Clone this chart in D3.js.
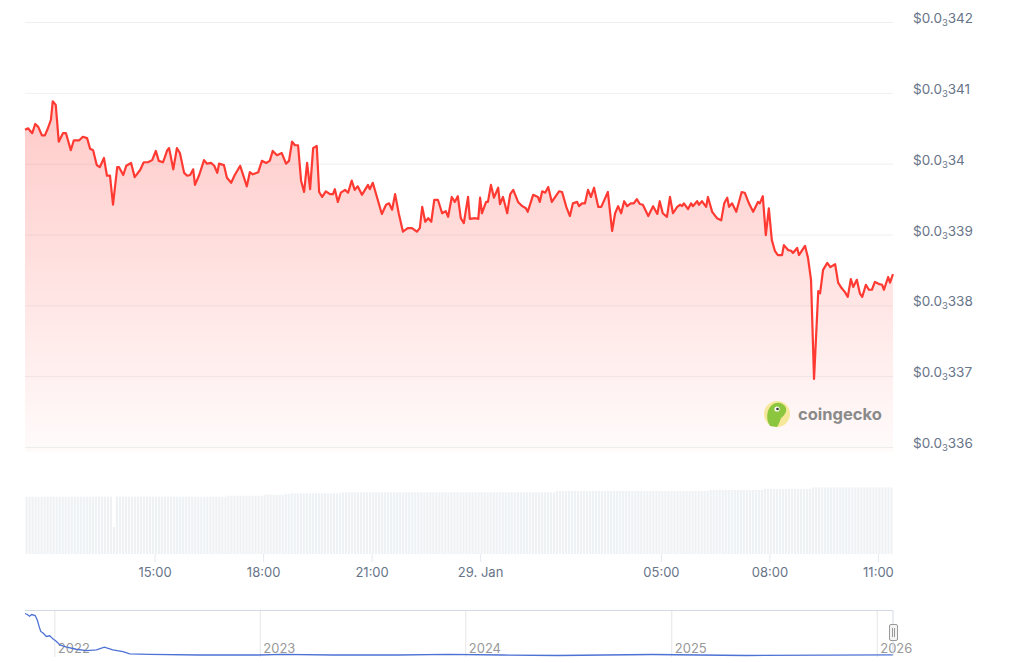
<!DOCTYPE html>
<html>
<head>
<meta charset="utf-8">
<script src="https://cdn.jsdelivr.net/npm/d3@7"></script>
<style>
  html, body { margin: 0; padding: 0; background: #fff; }
  svg { display: block; font-family: Inter, "Noto Sans", sans-serif; }
</style>
</head>
<body>
<svg id="chart"></svg>
<script>
// minutes after 28 Jan 2026 11:25
const minutes = [0,5,12,17,22,28,33,38,43,46,51,56,63,68,76,81,90,96,103,108,113,119,124,131,136,141,146,153,156,163,168,176,182,191,197,204,211,217,222,229,236,239,246,252,257,264,269,274,279,282,289,297,302,309,314,319,322,330,335,342,348,357,
  368,373,378,387,393,400,406,411,418,426,433,438,443,448,453,458,463,468,473,478,484,488,493,499,506,511,514,519,524,531,536,542,547,552,559,569,572,577,592,599,604,609,614,620,627,635,642,650,655,659,664,669,674,679,685,692,698,702,708,713,
  718,723,728,735,738,747,752,755,758,765,768,773,778,785,788,793,800,805,810,818,825,831,834,843,851,854,858,863,868,874,886,891,898,904,909,916,919,924,929,934,939,944,951,956,967,974,979,984,989,994,999,1005,1010,1015,1020,1025,1034,1042,1049,1053,1058,1065,1070,1075,1082,
  1087,1090,1093,1100,1105,1108,1115,1118,1123,1130,1133,1140,1148,1155,1160,1165,1168,1173,1180,1189,1194,1201,1208,1216,1219,1224,1229,1234,1239,1244,1249,1256,1259,1266,1271,1274,1281,1284,1294,1299,1304,1309,1316,1319,1324,1331,1336,1344,1349,1355,1360,1365,1370,1374,1380,1385,1389,1395,1400,1405,1410,1417,1422,1425,1432,1435,1440];

// price in millionths of a dollar (340.48 -> $0.00034048)
const prices = [340.48,340.50,340.43,340.56,340.52,340.40,340.40,340.50,340.62,340.88,340.83,340.31,340.43,340.43,340.19,340.33,340.33,340.38,340.36,340.21,340.19,339.98,339.95,340.08,339.83,339.83,339.42,339.95,339.95,339.84,339.97,340.01,339.81,339.91,340.02,340.02,340.05,340.18,340.04,340.02,340.19,340.22,339.92,340.22,340.15,339.87,339.83,339.84,339.92,339.70,339.84,340.05,340.00,340.01,339.97,339.87,340.00,339.98,339.80,339.73,339.84,339.97,
  339.68,339.88,339.85,339.88,340.04,340.01,340.04,340.18,340.12,340.15,340.00,340.04,340.31,340.26,340.26,339.76,339.60,340.01,339.64,340.22,340.25,339.60,339.53,339.61,339.57,339.57,339.64,339.46,339.59,339.63,339.59,339.76,339.63,339.68,339.56,339.70,339.64,339.73,339.29,339.42,339.44,339.35,339.57,339.30,339.04,339.09,339.09,339.04,339.09,339.39,339.18,339.23,339.18,339.49,339.49,339.30,339.33,339.25,339.53,339.46,
  339.54,339.23,339.16,339.53,339.22,339.23,339.22,339.52,339.30,339.46,339.46,339.70,339.52,339.66,339.43,339.53,339.30,339.57,339.63,339.46,339.40,339.37,339.32,339.56,339.53,339.46,339.61,339.59,339.67,339.46,339.61,339.60,339.39,339.26,339.44,339.46,339.40,339.44,339.44,339.63,339.53,339.66,339.39,339.39,339.60,339.05,339.30,339.40,339.30,339.47,339.40,339.44,339.44,339.50,339.43,339.42,339.26,339.40,339.29,339.47,339.30,339.25,339.53,339.30,339.39,
  339.42,339.40,339.44,339.36,339.44,339.40,339.47,339.42,339.47,339.39,339.53,339.32,339.23,339.20,339.44,339.52,339.39,339.44,339.32,339.60,339.59,339.44,339.32,339.46,339.44,339.54,338.99,339.37,338.92,338.77,338.71,338.71,338.85,338.78,338.77,338.74,338.81,338.71,338.84,338.67,338.36,336.96,338.20,338.17,338.50,338.60,338.54,338.58,338.32,338.24,338.19,338.12,338.37,338.26,338.36,338.17,338.12,338.29,338.22,338.22,338.33,338.30,338.29,338.22,338.40,338.32,338.44];

// volume bars, 5 minutes each: [number of bars, volume (relative units)]
const volumeRuns = [[29, 573], [1, 270], [37, 573], [12, 583], [7, 593], [2, 600], [17, 607], [71, 617], [51, 630], [18, 640], [16, 650], [27, 667]];

const yTicks = [336, 337, 338, 339, 340, 341, 342];
const xTickTimes = ["2026-01-28T15:00", "2026-01-28T18:00", "2026-01-28T21:00", "2026-01-29T00:00", "2026-01-29T05:00", "2026-01-29T08:00", "2026-01-29T11:00"];

// navigator: full history
const navDates = ["2021-11-09","2021-11-13","2021-11-17","2021-11-21","2021-11-27","2021-12-01","2021-12-04","2021-12-07","2021-12-11","2021-12-17","2021-12-23","2021-12-29","2022-01-04","2022-01-10","2022-01-22","2022-02-08","2022-02-26","2022-03-16","2022-03-30","2022-04-14","2022-05-02","2022-05-14","2022-06-18","2022-09-14","2022-12-30","2023-02-08","2023-05-08","2023-09-03","2023-12-01","2024-03-05","2024-06-12","2024-11-27","2025-05-14","2026-01-29"];
const navPrices = [1387,1361,1318,1361,1336,1215,1060,932,891,803,821,736,675,590,531,479,443,461,531,461,418,359,351,333,333,351,333,333,351,333,320,346,320,338];
const navYears = ["2022", "2023", "2024", "2025", "2026"];

const width = 1024;
const height = 663;
const left = 25, right = 893;
const textColor = "#677489";

const svg = d3.select("#chart")
  .attr("width", width)
  .attr("height", height);

const start = new Date(2026, 0, 28, 11, 25);
const end = new Date(2026, 0, 29, 11, 25);

const x = d3.scaleTime().domain([start, end]).range([left, right]);
const y = d3.scaleLinear().domain([336, 342]).range([447, 22]);
const paneBottom = y(336) + 5;

const points = minutes.map((m, i) => ({ t: new Date(+start + m * 60000), v: prices[i] }));

// grid
svg.append("g")
  .attr("transform", `translate(${left},0)`)
  .call(d3.axisRight(y).tickValues(yTicks).tickSize(right - left).tickFormat(""))
  .call(g => g.select(".domain").remove())
  .selectAll("line")
  .attr("stroke", "#edf0f3");

// y labels like $0.0₃342
const yLabels = svg.append("g")
  .selectAll("text")
  .data(yTicks)
  .enter()
  .append("text")
  .attr("x", 913)
  .attr("y", d => y(d) + 1)
  .attr("fill", textColor)
  .style("font-size", "13.5px");
yLabels.append("tspan").text("$0.0");
yLabels.append("tspan").attr("dy", 3).style("font-size", "9.5px").text("3");
yLabels.append("tspan").attr("dy", -3).text(d => String(d).replace(/0+$/, ""));

// area + line
const defs = svg.append("defs");
const grad = defs.append("linearGradient")
  .attr("id", "priceFill")
  .attr("x1", 0).attr("y1", 0).attr("x2", 0).attr("y2", 1);
grad.append("stop").attr("offset", "0%").attr("stop-color", "#ff3a33").attr("stop-opacity", 0.27);
grad.append("stop").attr("offset", "100%").attr("stop-color", "#ff3a33").attr("stop-opacity", 0.02);

svg.append("path")
  .datum(points)
  .attr("fill", "url(#priceFill)")
  .attr("d", d3.area().x(d => x(d.t)).y0(paneBottom).y1(d => y(d.v)));

svg.append("path")
  .datum(points)
  .attr("fill", "none")
  .attr("stroke", "#ff3a33")
  .attr("stroke-width", 2.2)
  .attr("stroke-linejoin", "round")
  .attr("d", d3.line().x(d => x(d.t)).y(d => y(d.v)));

// watermark
const wm = svg.append("g");
wm.append("circle").attr("cx", 777).attr("cy", 414).attr("r", 13).attr("fill", "#f6e89a");
wm.append("path")
  .attr("d", "M770,426 C766,420 766,410 772,405 C777,401 784,403 786,408 C787,412 784,416 781,418 C780,421 779,424 777,427 Z")
  .attr("fill", "#8cc63f");
wm.append("circle").attr("cx", 777).attr("cy", 409).attr("r", 2.6).attr("fill", "#fff");
wm.append("circle").attr("cx", 777.5).attr("cy", 409).attr("r", 1.3).attr("fill", "#333");
wm.append("text")
  .attr("x", 798)
  .attr("y", 420)
  .attr("fill", "#8a8a8a")
  .style("font-size", "16.5px")
  .style("font-weight", "700")
  .text("coingecko");

// volume
const volume = [];
volumeRuns.forEach(([n, v]) => { for (let k = 0; k < n; k++) volume.push(v); });
const step = 5 * 60000;
const yV = d3.scaleLinear().domain([0, 700]).range([554, 484]);

svg.append("g")
  .selectAll("rect")
  .data(volume)
  .enter()
  .append("rect")
  .attr("x", (d, i) => x(new Date(+start + i * step)) + 0.4)
  .attr("width", (d, i) => x(new Date(+start + (i + 1) * step)) - x(new Date(+start + i * step)) - 0.8)
  .attr("y", d => yV(d))
  .attr("height", d => yV(0) - yV(d))
  .attr("fill", "#eff2f5");

// x axis
const fmtDay = d3.timeFormat("%-d. %b");
const fmtHour = d3.timeFormat("%H:%M");
svg.append("g")
  .attr("transform", "translate(0,554)")
  .call(d3.axisBottom(x)
    .tickValues(xTickTimes.map(d => new Date(d)))
    .tickSize(8)
    .tickFormat(d => d.getHours() === 0 ? fmtDay(d) : fmtHour(d)))
  .call(g => g.select(".domain").remove())
  .call(g => g.selectAll("line").attr("stroke", "#e6e9ee"))
  .call(g => g.selectAll("text")
    .attr("y", 14)
    .attr("fill", textColor)
    .style("font-size", "13px")
    .style("font-family", "Inter, 'Noto Sans', sans-serif"));

// navigator
const xN = d3.scaleTime()
  .domain([new Date(navDates[0]), new Date(navDates[navDates.length - 1])])
  .range([left, right]);
const yN = d3.scaleLinear().domain(d3.extent(navPrices)).range([655.5, 613.5]);

const navYearG = svg.append("g")
  .selectAll("g")
  .data(navYears)
  .enter()
  .append("g")
  .attr("transform", d => `translate(${xN(new Date(+d, 0, 1))},0)`);
navYearG.append("line")
  .attr("y1", 610).attr("y2", 657)
  .attr("stroke", "#e6e6e6");
navYearG.append("text")
  .attr("x", 3).attr("y", 653)
  .attr("fill", "#999")
  .style("font-size", "13px")
  .text(d => d);

svg.append("path")
  .datum(navDates.map((d, i) => ({ t: new Date(d), v: navPrices[i] })))
  .attr("fill", "none")
  .attr("stroke", "#4e72d4")
  .attr("stroke-width", 1.3)
  .attr("d", d3.line().x(d => xN(d.t)).y(d => yN(d.v)));

svg.append("path")
  .attr("d", `M${left},610.5H${right}V656`)
  .attr("fill", "none")
  .attr("stroke", "#d3d9e3");

const handle = svg.append("g").attr("transform", `translate(${right},0)`);
handle.append("rect")
  .attr("x", -3.5).attr("y", 624.5).attr("width", 8).attr("height", 16).attr("rx", 1.5)
  .attr("fill", "#f4f4f4").attr("stroke", "#999");
handle.append("line").attr("x1", -0.5).attr("x2", -0.5).attr("y1", 628).attr("y2", 637).attr("stroke", "#999");
handle.append("line").attr("x1", 1.5).attr("x2", 1.5).attr("y1", 628).attr("y2", 637).attr("stroke", "#999");
</script>
</body>
</html>
